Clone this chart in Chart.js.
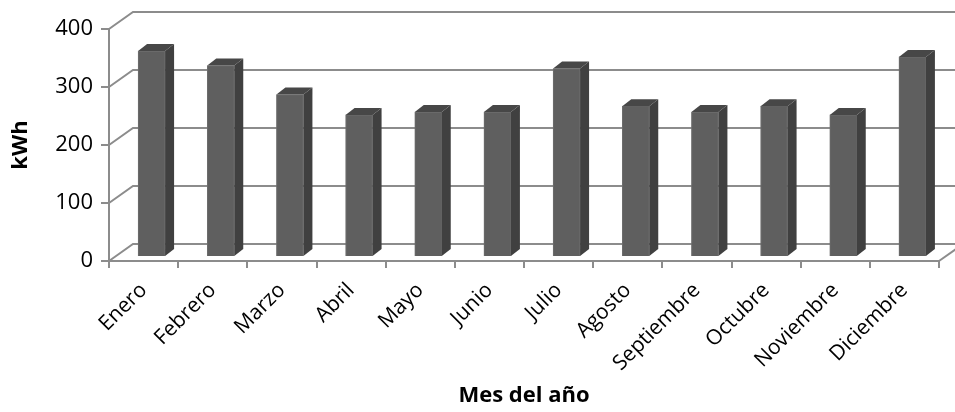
<!DOCTYPE html>
<html>
<head>
<meta charset="utf-8">
<script src="https://cdn.jsdelivr.net/npm/chart.js@4/dist/chart.umd.min.js"></script>
<style>
html,body{margin:0;padding:0;background:#fff;}
#wrap{width:955px;height:412px;position:relative;}
</style>
</head>
<body>
<div id="wrap"><canvas id="c" width="955" height="412"></canvas></div>
<script>
const months = ['Enero','Febrero','Marzo','Abril','Mayo','Junio','Julio','Agosto','Septiembre','Octubre','Noviembre','Diciembre'];
const consumo = [355, 330, 280, 245, 250, 250, 325, 260, 250, 260, 245, 345];
const yMin = 0, yMax = 400, yStep = 100;
const yTitle = 'kWh';
const xTitle = 'Mes del año';

const FONT = '"Open Sans", "Liberation Sans", sans-serif';
const GRID = '#8c8c8c';
const WALL_DX = 24, WALL_DY = -17;   // depth of the back wall
const BAR_DX = 8, BAR_DY = -4;       // bar row depth position
const SIDE_DX = 9, SIDE_DY = -7;     // bar depth

const wall3d = {
  id: 'wall3d',
  beforeDatasetsDraw(chart) {
    const {ctx, chartArea: a, scales: {x, y}} = chart;
    ctx.save();
    ctx.strokeStyle = GRID;
    ctx.lineWidth = 2;
    y.ticks.forEach(t => {
      const py = y.getPixelForValue(t.value);
      ctx.beginPath();
      ctx.moveTo(a.left, py);
      ctx.lineTo(a.left + WALL_DX, py + WALL_DY);
      ctx.lineTo(chart.width, py + WALL_DY);
      ctx.stroke();
    });
    ctx.beginPath();
    ctx.moveTo(a.right, a.bottom);
    ctx.lineTo(a.right + WALL_DX, a.bottom + WALL_DY);
    ctx.stroke();
    ctx.restore();
    ctx.save();
    ctx.translate(BAR_DX, BAR_DY);
  },
  afterDatasetsDraw(chart) {
    const {ctx} = chart;
    const meta = chart.getDatasetMeta(0);
    meta.data.forEach(el => {
      const {x, y, base, width} = el.getProps(['x','y','base','width'], true);
      const l = x - width/2, r = x + width/2;
      ctx.fillStyle = '#404040';
      ctx.beginPath();
      ctx.moveTo(r, y);
      ctx.lineTo(r + SIDE_DX, y + SIDE_DY);
      ctx.lineTo(r + SIDE_DX, base + SIDE_DY);
      ctx.lineTo(r, base);
      ctx.closePath();
      ctx.fill();
      ctx.fillStyle = '#474747';
      ctx.beginPath();
      ctx.moveTo(l, y);
      ctx.lineTo(l + SIDE_DX, y + SIDE_DY);
      ctx.lineTo(r + SIDE_DX, y + SIDE_DY);
      ctx.lineTo(r, y);
      ctx.closePath();
      ctx.fill();
    });
    ctx.restore();
  }
};

new Chart(document.getElementById('c'), {
  type: 'bar',
  data: {
    labels: months,
    datasets: [{
      data: consumo,
      backgroundColor: '#5f5f5f',
      borderColor: '#6e6e6e',
      borderWidth: 1,
      barThickness: 27
    }]
  },
  options: {
    responsive: false,
    animation: false,
    devicePixelRatio: 1,
    layout: {padding: {top: 29, right: 16, left: 0, bottom: 0}},
    plugins: {legend: {display: false}, tooltip: {enabled: false}},
    scales: {
      x: {
        offset: true,
        grid: {offset: true, drawOnChartArea: false, drawTicks: true, tickLength: 7, color: GRID, lineWidth: 2},
        border: {display: true, color: GRID, width: 2},
        ticks: {minRotation: 45, maxRotation: 45, autoSkip: false, color: '#000', padding: 10,
                font: {family: FONT, size: 21}},
        title: {display: true, text: xTitle, color: '#000', padding: {top: 0, bottom: 3},
                font: {family: FONT, size: 22, weight: 'bold'}},
        afterFit(s) { s.height = 151; }
      },
      y: {
        min: yMin, max: yMax,
        ticks: {stepSize: yStep, color: '#000', padding: 8, font: {family: FONT, size: 22}},
        grid: {drawOnChartArea: false, drawTicks: true, tickLength: 8, color: GRID, lineWidth: 2},
        border: {display: true, color: GRID, width: 2},
        title: {display: true, text: yTitle, color: '#000', padding: {top: 8, bottom: 0},
                font: {family: FONT, size: 22, weight: 'bold'}},
        afterFit(s) { s.width = 109; }
      }
    }
  },
  plugins: [wall3d]
});
</script>
</body>
</html>
